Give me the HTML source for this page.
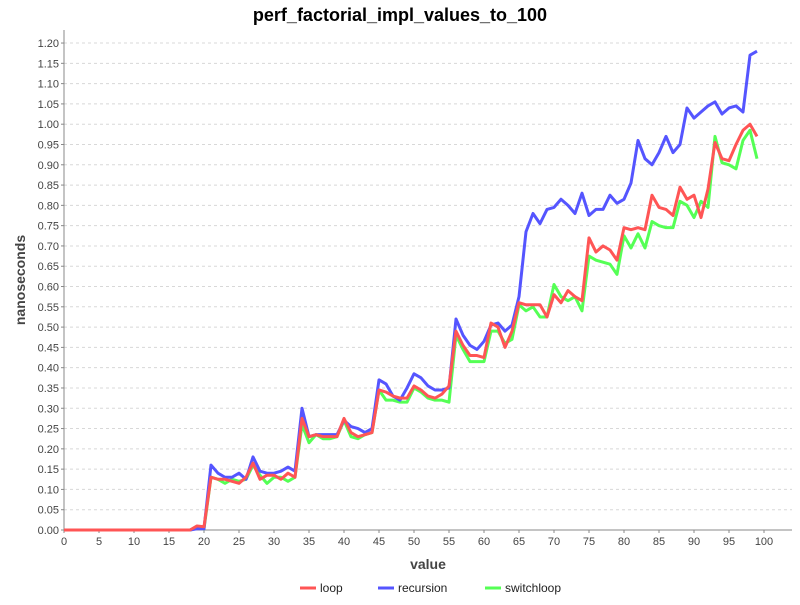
<!DOCTYPE html>
<html><head><meta charset="utf-8"><style>
body{margin:0;background:#fff;}
svg text{font-family:"Liberation Sans",sans-serif;}
</style></head><body>
<svg id="chart" width="800" height="600">
<text x="400" y="21" text-anchor="middle" font-size="18" font-weight="bold" fill="#000">perf_factorial_impl_values_to_100</text>
<g id="grid"></g><g id="axes"></g><g id="series"></g>
<text transform="translate(25,280) rotate(-90)" text-anchor="middle" font-size="14" font-weight="bold" fill="#444">nanoseconds</text>
<text x="428" y="569" text-anchor="middle" font-size="14" font-weight="bold" fill="#444">value</text>
<g id="legend"></g>
</svg>
<script>
const seriesNames=["loop","recursion","switchloop"];
const seriesColors=["#ff5555","#5555ff","#55ff55"];
const zeros=new Array(19).fill(0);
const loopVals=zeros.concat([0.01,0.008,0.13,0.125,0.125,0.12,0.115,0.13,0.165,0.125,0.135,0.135,0.125,0.14,0.13,0.275,0.23,0.235,0.23,0.23,0.23,0.275,0.24,0.23,0.235,0.24,0.345,0.34,0.33,0.325,0.325,0.355,0.345,0.33,0.325,0.335,0.355,0.49,0.455,0.43,0.43,0.425,0.51,0.5,0.45,0.49,0.56,0.555,0.555,0.555,0.525,0.58,0.56,0.59,0.575,0.565,0.72,0.685,0.7,0.69,0.665,0.745,0.74,0.745,0.74,0.825,0.795,0.79,0.775,0.845,0.815,0.825,0.77,0.84,0.955,0.915,0.91,0.95,0.985,1.0,0.97]);
const recursionVals=zeros.concat([0.003,0.003,0.16,0.14,0.13,0.13,0.14,0.125,0.18,0.145,0.14,0.14,0.145,0.155,0.145,0.3,0.23,0.235,0.235,0.235,0.235,0.27,0.255,0.25,0.24,0.25,0.37,0.36,0.33,0.32,0.35,0.385,0.375,0.355,0.345,0.345,0.35,0.52,0.48,0.455,0.445,0.465,0.505,0.51,0.49,0.505,0.575,0.735,0.78,0.755,0.79,0.795,0.815,0.8,0.78,0.83,0.775,0.79,0.79,0.825,0.805,0.815,0.855,0.96,0.915,0.9,0.93,0.97,0.93,0.95,1.04,1.015,1.03,1.045,1.055,1.025,1.04,1.045,1.03,1.17,1.18]);
const switchloopVals=zeros.concat([0.005,0.003,0.13,0.125,0.115,0.125,0.12,0.125,0.16,0.135,0.115,0.13,0.13,0.12,0.13,0.26,0.215,0.235,0.225,0.225,0.23,0.27,0.23,0.225,0.235,0.24,0.345,0.32,0.32,0.315,0.315,0.35,0.34,0.325,0.32,0.32,0.315,0.48,0.445,0.415,0.415,0.415,0.49,0.49,0.46,0.47,0.555,0.54,0.55,0.525,0.525,0.605,0.575,0.565,0.575,0.54,0.675,0.665,0.66,0.655,0.63,0.725,0.695,0.73,0.695,0.76,0.75,0.745,0.745,0.81,0.8,0.77,0.81,0.795,0.97,0.905,0.9,0.89,0.96,0.985,0.915]);
const xTicks=[0,5,10,15,20,25,30,35,40,45,50,55,60,65,70,75,80,85,90,95,100];
const yTicks=[0,0.05,0.1,0.15,0.2,0.25,0.3,0.35,0.4,0.45,0.5,0.55,0.6,0.65,0.7,0.75,0.8,0.85,0.9,0.95,1.0,1.05,1.1,1.15,1.2];

const NS="http://www.w3.org/2000/svg";
const L=64,R=792,T=30,B=530;
const xs=v=>L+v*7;
const ys=v=>B-v*405.8;
function mk(tag,attrs,parent){const e=document.createElementNS(NS,tag);for(const k in attrs)e.setAttribute(k,attrs[k]);parent.appendChild(e);return e;}
const grid=document.getElementById('grid'),axes=document.getElementById('axes'),ser=document.getElementById('series'),leg=document.getElementById('legend');
yTicks.forEach(t=>{
  const y=ys(t);
  if(t>0){const g=mk('line',{x1:L,x2:R,y1:y,y2:y,stroke:'#d8d8d8','stroke-dasharray':'3,3'},grid);
  
  }
  mk('line',{x1:L-3,x2:L,y1:y,y2:y,stroke:'#888'},axes);
  const tx=mk('text',{x:L-5,y:y+4,'text-anchor':'end','font-size':11,fill:'#444'},axes);
  tx.textContent=t.toFixed(2);
  
  
});
xTicks.forEach(t=>{
  const x=xs(t);
  mk('line',{x1:x,x2:x,y1:B,y2:B+3,stroke:'#888'},axes);
  const tx=mk('text',{x:x,y:B+15,'text-anchor':'middle','font-size':11,fill:'#444'},axes);
  tx.textContent=t;
  
  
});
const ya=mk('line',{x1:L,x2:L,y1:T,y2:B,stroke:'#888'},axes);


const xa=mk('line',{x1:L,x2:R,y1:B,y2:B,stroke:'#888'},axes);


const data=[loopVals,recursionVals,switchloopVals];
[2,1,0].forEach(i=>{
  const pts=data[i].map((v,j)=>xs(j)+','+ys(v)).join(' ');
  const p=mk('polyline',{points:pts,fill:'none',stroke:seriesColors[i],'stroke-width':3,'stroke-linejoin':'round'},ser);
  
  
});
const legX=[300,378,485];
seriesNames.forEach((n,i)=>{
  const g=mk('g',{},leg);
  
  
  mk('line',{x1:legX[i],x2:legX[i]+16,y1:588,y2:588,stroke:seriesColors[i],'stroke-width':3},g);
  const t=mk('text',{x:legX[i]+20,y:592,'font-size':12,fill:'#222'},g);
  t.textContent=n;
});
</script>
</body></html>
